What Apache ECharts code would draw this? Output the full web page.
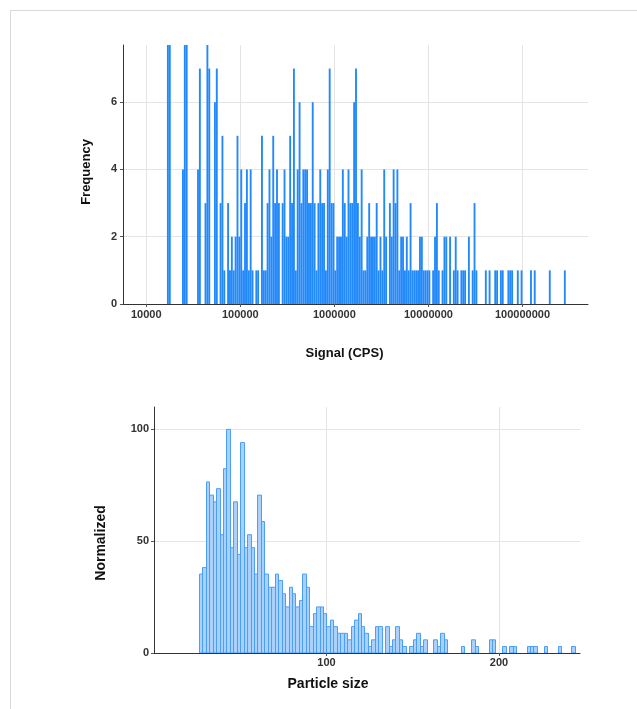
<!doctype html>
<html lang="en">
<head>
	<meta charset="utf-8" />
	<title>Signal and particle size histograms</title>
	<script src="https://cdn.jsdelivr.net/npm/echarts@6/dist/echarts.min.js"></script>
	<style>
		html, body { margin: 0; padding: 0; background: #fff; }
		#wrap { position: relative; width: 637px; height: 709px; }
		#main { width: 637px; height: 709px; }
		#frame {
			position: absolute; left: 10px; top: 10px; right: 0; bottom: 0;
			border-left: 1px solid #d9d9d9; border-top: 1px solid #d9d9d9;
			pointer-events: none;
		}
	</style>
</head>

<body>
	<div id="wrap">
		<div id="main"></div>
		<div id="frame"></div>
	</div>
	<script>
		// top histogram: log-spaced bins, 50 per decade, first bin starts at 10^4.2
		const signalFirstBinLog = 4.2;
		const signalBinsPerDecade = 50;
		const signalCounts = [
			0, 9, 9, 0, 0, 0, 0, 0, 0, 4,
			9, 9, 0, 0, 0, 0, 0, 4, 7, 0,
			0, 3, 9, 7, 0, 0, 6, 7, 0, 3,
			5, 1, 0, 3, 1, 2, 1, 2, 5, 2,
			4, 1, 3, 4, 1, 4, 1, 0, 1, 1,
			0, 5, 1, 1, 3, 4, 2, 5, 3, 4,
			3, 0, 3, 4, 2, 2, 5, 3, 7, 1,
			4, 6, 3, 4, 4, 4, 3, 3, 6, 3,
			1, 3, 4, 3, 3, 1, 4, 7, 3, 3,
			1, 2, 2, 2, 4, 3, 2, 4, 3, 3,
			6, 7, 3, 2, 4, 1, 1, 2, 3, 2,
			2, 2, 3, 1, 2, 1, 4, 2, 0, 3,
			2, 4, 3, 4, 1, 2, 2, 1, 2, 1,
			3, 1, 1, 1, 1, 2, 2, 1, 1, 1,
			1, 0, 1, 2, 3, 1, 0, 1, 2, 2,
			0, 2, 0, 1, 2, 1, 0, 1, 1, 1,
			0, 2, 0, 1, 3, 1, 0, 0, 0, 0,
			1, 0, 1, 0, 0, 1, 1, 0, 1, 1,
			0, 0, 1, 1, 1, 0, 0, 1, 0, 1,
			0, 0, 0, 0, 1, 0, 1, 0, 0, 0,
			0, 0, 0, 0, 1, 0, 0, 0, 0, 0,
			0, 0, 1
		];

		// bottom histogram: 2-unit bins starting at 26
		const sizeFirstBin = 26;
		const sizeBinWidth = 2;
		const sizeNormalized = [
			35.3, 38.2, 76.5, 70.6, 67.6, 73.5, 52.9, 82.4, 100, 47.1,
			67.6, 44.1, 94.1, 47.1, 52.9, 47.1, 35.3, 70.6, 58.8, 35.3,
			29.4, 29.4, 35.3, 32.4, 26.5, 20.6, 29.4, 26.5, 20.6, 23.5,
			35.3, 29.4, 11.8, 17.6, 20.6, 20.6, 17.6, 11.8, 14.7, 11.8,
			8.8, 8.8, 8.8, 5.9, 11.8, 14.7, 17.6, 11.8, 8.8, 2.9,
			5.9, 11.8, 11.8, 0, 11.8, 2.9, 5.9, 11.8, 5.9, 2.9,
			0, 2.9, 5.9, 8.8, 2.9, 5.9, 0, 0, 5.9, 2.9,
			8.8, 5.9, 0, 0, 0, 0, 2.9, 0, 0, 5.9,
			2.9, 0, 0, 0, 5.9, 5.9, 0, 0, 2.9, 0,
			2.9, 2.9, 0, 0, 0, 2.9, 2.9, 2.9, 0, 0,
			2.9, 0, 0, 0, 2.9, 0, 0, 0, 2.9
		];

		const signalData = [];
		signalCounts.forEach(function (n, i) {
			if (n > 0) {
				const lo = Math.pow(10, signalFirstBinLog + i / signalBinsPerDecade);
				const hi = Math.pow(10, signalFirstBinLog + (i + 1) / signalBinsPerDecade);
				signalData.push([lo, hi, n]);
			}
		});

		const sizeData = [];
		sizeNormalized.forEach(function (v, i) {
			if (v > 0) {
				const lo = sizeFirstBin + i * sizeBinWidth;
				sizeData.push([lo, lo + sizeBinWidth, v]);
			}
		});

		const tickFont = {
			color: '#333',
			fontWeight: 'bold',
			fontSize: 11,
			fontFamily: 'Liberation Sans'
		};
		const nameFont = {
			color: '#111',
			fontWeight: 'bold',
			fontSize: 13,
			fontFamily: 'Liberation Sans'
		};
		const nameFontBig = Object.assign({}, nameFont, { fontSize: 14 });
		const gridLine = { lineStyle: { color: '#e4e4e4', width: 1 } };
		const axisLine = { lineStyle: { color: '#333', width: 1 } };

		function binRect(fill, stroke) {
			return function (params, api) {
				const a = api.coord([api.value(0), api.value(2)]);
				const b = api.coord([api.value(1), 0]);
				const top = Math.max(a[1], params.coordSys.y);
				let x0 = a[0], x1 = b[0];
				if (stroke) {
					x0 = Math.round(x0) + 0.5;
					x1 = Math.round(x1) + 0.5;
				}
				return {
					type: 'rect',
					shape: { x: x0, y: top, width: x1 - x0, height: b[1] - top },
					style: stroke ? { fill: fill, stroke: stroke, lineWidth: 1 } : { fill: fill }
				};
			};
		}

		const chart = echarts.init(document.getElementById('main'));
		chart.setOption({
			animation: false,
			grid: [
				{ left: 123, top: 45, width: 465, height: 259 },
				{ left: 154, top: 407, width: 426, height: 246 }
			],
			xAxis: [
				{
					gridIndex: 0,
					type: 'log',
					logBase: 10,
					min: 5660,
					max: 497000000,
					name: 'Signal (CPS)',
					nameLocation: 'middle',
					nameGap: 43,
					nameTextStyle: Object.assign({ padding: [0, 22, 0, 0] }, nameFont),
					axisLine: axisLine,
					axisTick: { show: true, length: 3, lineStyle: { color: '#555' } },
					axisLabel: Object.assign({
						margin: 5,
						showMinLabel: false,
						showMaxLabel: false,
						formatter: function (v) { return String(Math.round(v)); }
					}, tickFont),
					splitLine: Object.assign({ show: true, showMinLine: false, showMaxLine: false }, gridLine)
				},
				{
					gridIndex: 1,
					type: 'value',
					min: 0,
					max: 247,
					interval: 100,
					name: 'Particle size',
					nameLocation: 'middle',
					nameGap: 24,
					nameTextStyle: Object.assign({ padding: [0, 78, 0, 0] }, nameFontBig),
					axisLine: axisLine,
					axisTick: { show: true, length: 3, lineStyle: { color: '#555' } },
					axisLabel: Object.assign({ margin: 4, showMinLabel: false, showMaxLabel: false }, tickFont),
					splitLine: Object.assign({ show: true, showMinLine: false, showMaxLine: false }, gridLine)
				}
			],
			yAxis: [
				{
					gridIndex: 0,
					type: 'value',
					min: 0,
					max: 7.7,
					interval: 2,
					name: 'Frequency',
					nameLocation: 'middle',
					nameGap: 30,
					nameTextStyle: Object.assign({ padding: [0, 0, 0, 5] }, nameFont),
					axisLine: Object.assign({ show: true }, axisLine),
					axisTick: { show: true, length: 3, lineStyle: { color: '#555' } },
					axisLabel: Object.assign({ margin: 6, showMaxLabel: false }, tickFont),
					splitLine: Object.assign({ show: true, showMaxLine: false }, gridLine)
				},
				{
					gridIndex: 1,
					type: 'value',
					min: 0,
					max: 110,
					interval: 50,
					name: 'Normalized',
					nameLocation: 'middle',
					nameGap: 46,
					nameTextStyle: Object.assign({ padding: [0, 26, 0, 0] }, nameFontBig),
					axisLine: Object.assign({ show: true }, axisLine),
					axisTick: { show: true, length: 3, lineStyle: { color: '#555' } },
					axisLabel: Object.assign({ margin: 5, showMaxLabel: false }, tickFont),
					splitLine: Object.assign({ show: true, showMaxLine: false }, gridLine)
				}
			],
			series: [
				{
					type: 'custom',
					xAxisIndex: 0,
					yAxisIndex: 0,
					clip: true,
					encode: { x: [0, 1], y: 2 },
					renderItem: binRect('#2289fb', null),
					data: signalData
				},
				{
					type: 'custom',
					xAxisIndex: 1,
					yAxisIndex: 1,
					clip: true,
					encode: { x: [0, 1], y: 2 },
					renderItem: binRect('#a9d1fb', '#4a9ffa'),
					data: sizeData
				}
			]
		});
	</script>
</body>
</html>
